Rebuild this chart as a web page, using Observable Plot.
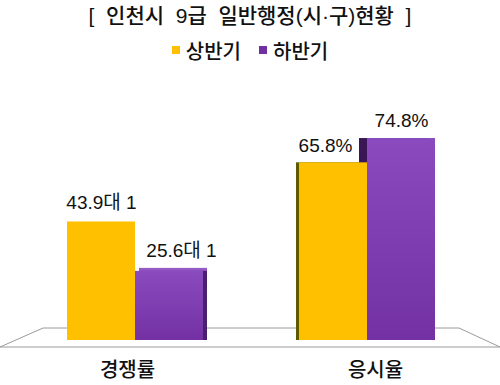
<!DOCTYPE html>
<html>
<head>
<meta charset="utf-8">
<script src="https://cdn.jsdelivr.net/npm/d3@7"></script>
<script src="https://cdn.jsdelivr.net/npm/@observablehq/plot@0.6"></script>
<style>
  html, body { margin: 0; padding: 0; background: #fff; }
  body { width: 500px; height: 385px; overflow: hidden; font-family: "Noto Sans CJK KR", sans-serif; color: #111; }
  #title { height: 32px; line-height: 32px; text-align: center; font-size: 21px; font-weight: 500; white-space: pre; font-family: "Liberation Sans", "Noto Sans CJK KR", sans-serif; }
  #legend { height: 36px; display: flex; justify-content: center; align-items: center; gap: 18px; font-size: 20px; font-weight: 500; }
  #legend .item { display: flex; align-items: center; gap: 6px; }
  #legend .sw { width: 8px; height: 8px; display: inline-block; }
</style>
</head>
<body>
<div id="title">[  인천시  9급  일반행정(시·구)현황  ]</div>
<div id="legend"></div>
<div id="chart"></div>
<script>
const categories = ["경쟁률", "응시율"];
const series = ["상반기", "하반기"];
const firstHalf = [43.9, 65.8];
const secondHalf = [25.6, 74.8];
const firstLabels = ["43.9대 1", "65.8%"];
const secondLabels = ["25.6대 1", "74.8%"];
const colors = ["#FFC000", "url(#purpleGrad)"];
const legendColors = ["#FFC000", "#7030A0"];

const rows = [];
categories.forEach((c, i) => {
  rows.push({cat: c, series: series[0], value: firstHalf[i], label: firstLabels[i]});
  rows.push({cat: c, series: series[1], value: secondHalf[i], label: secondLabels[i]});
});

const legend = document.getElementById("legend");
series.forEach((s, i) => {
  const it = document.createElement("span");
  it.className = "item";
  it.innerHTML = `<span class="sw" style="background:${legendColors[i]}"></span><span>${s}</span>`;
  legend.appendChild(it);
});

const is = (c, s) => d => d.cat === c && d.series === s;
const labelFont = '"Liberation Sans", "Noto Sans CJK KR", sans-serif';
const catFont = '"Noto Sans CJK KR", sans-serif';

const plot = Plot.plot({
  width: 500,
  height: 317,
  marginTop: 2,
  marginBottom: 45,
  marginLeft: 66,
  marginRight: 64,
  style: {fontFamily: labelFont, fontSize: "19px", color: "#111", overflow: "visible"},
  fx: {domain: categories, paddingInner: 0.412, paddingOuter: 0, axis: null},
  x: {domain: series, padding: 0, axis: null},
  y: {domain: [0, 100], axis: null},
  color: {domain: series, range: colors},
  marks: [
    // extrusion faces
    Plot.barY(rows, {filter: is("경쟁률", "하반기"), fx: "cat", x: "series", y: "value", fill: "#9459C4", dx: 4, dy: -3}),
    Plot.barY(rows, {filter: is("경쟁률", "하반기"), fx: "cat", x: "series", y: "value", fill: "#4A1F70", dx: 4, dy: 0}),
    Plot.barY(rows, {filter: is("응시율", "상반기"), fx: "cat", x: "series", y: "value", fill: "#5E5A00", dx: -3, dy: 0}),
    Plot.barY(rows, {filter: is("응시율", "하반기"), fx: "cat", x: "series", y: "value", fill: "#3A1656", dx: -8, dy: 0}),
    // front faces
    Plot.barY(rows, {fx: "cat", x: "series", y: "value", fill: "series"}),
    // value labels
    Plot.text(rows, {filter: is("경쟁률", "상반기"), fx: "cat", x: "series", y: "value", text: "label", dy: -19}),
    Plot.text(rows, {filter: is("경쟁률", "하반기"), fx: "cat", x: "series", y: "value", text: "label", dy: -20, dx: 12}),
    Plot.text(rows, {filter: is("응시율", "상반기"), fx: "cat", x: "series", y: "value", text: "label", dy: -17, dx: -8}),
    Plot.text(rows, {filter: is("응시율", "하반기"), fx: "cat", x: "series", y: "value", text: "label", dy: -18}),
    // category labels
    Plot.text(categories, {filter: d => d === "경쟁률", fx: d => d, text: d => d, frameAnchor: "bottom", lineAnchor: "middle", dy: 30, dx: -8, fontSize: 20, fontWeight: 500, fontFamily: catFont, fill: "#111"}),
    Plot.text(categories, {filter: d => d === "응시율", fx: d => d, text: d => d, frameAnchor: "bottom", lineAnchor: "middle", dy: 30, dx: 8, fontSize: 20, fontWeight: 500, fontFamily: catFont, fill: "#111"})
  ]
});

// gradient defs
const ns = "http://www.w3.org/2000/svg";
const svg = plot.tagName.toLowerCase() === "svg" ? plot : plot.querySelector("svg");
const defs = document.createElementNS(ns, "defs");
defs.innerHTML = `<linearGradient id="purpleGrad" x1="0" y1="0" x2="0" y2="1">
  <stop offset="0" stop-color="#8A4BBE"/><stop offset="1" stop-color="#7331A3"/></linearGradient>`;
svg.insertBefore(defs, svg.firstChild);

// floor plane under the bars, positioned from the scales
const y0 = plot.scale("y").apply(0);
const fxr = plot.scale("fx").range;
const floor = document.createElementNS(ns, "polygon");
const backL = fxr[0] - 23, backR = fxr[1] + 23;
floor.setAttribute("points", `${backL},${y0 - 12} ${backR},${y0 - 12} ${500},${y0 + 7} ${0},${y0 + 7}`);
floor.setAttribute("fill", "#fff");
floor.setAttribute("stroke", "#9a9a9a");
floor.setAttribute("stroke-width", "1");
svg.insertBefore(floor, defs.nextSibling);

document.getElementById("chart").appendChild(plot);
</script>
</body>
</html>
